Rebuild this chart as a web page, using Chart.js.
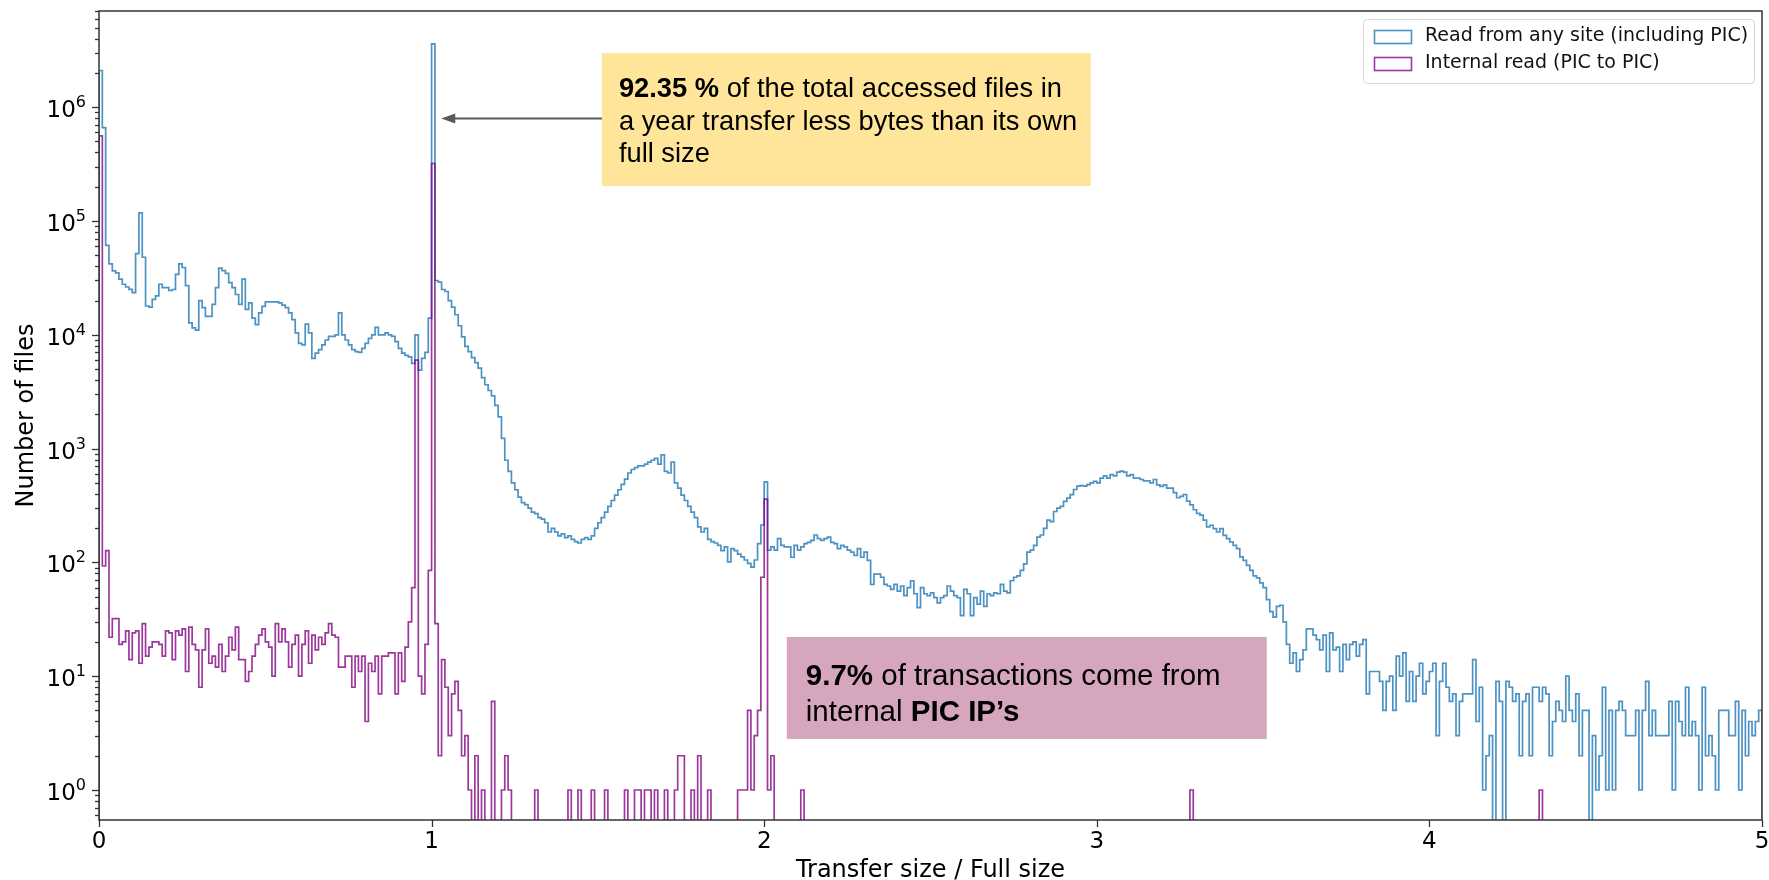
<!DOCTYPE html>
<html>
<head>
<meta charset="utf-8">
<script src="https://cdn.jsdelivr.net/npm/chart.js@4.4.1/dist/chart.umd.min.js"></script>
<style>
  html, body { margin: 0; padding: 0; background: #fff; }
</style>
</head>
<body>
<canvas id="myChart" width="1769" height="880"></canvas>
<script>
// Histogram bins: 500 bins of width 0.01 between 0 and 5 (transfer size / full size)
const BIN_WIDTH = 0.01;

// Counts per bin. "Read from any site (including PIC)"
const readAll = [
  2100000, 660000, 61000, 42000, 36500, 35000, 30800, 27800, 26300, 25100, 23500, 51600, 118000, 48000, 17900, 17500, 20500, 22000, 27800, 26000, // 0.00
  26000, 24500, 25000, 34000, 42000, 39000, 27000, 12700, 11500, 11000, 20000, 17300, 14500, 14500, 18500, 26000, 38600, 36600, 34600, 28700, // 0.20
  26000, 22600, 18500, 30800, 16700, 19100, 14000, 12300, 15600, 17800, 19500, 19500, 19500, 19500, 19100, 18200, 17300, 15600, 13600, 10400, // 0.40
  8400, 8150, 12400, 10400, 6200, 6900, 7400, 8150, 9000, 9700, 9700, 10000, 15600, 10000, 9000, 8150, 7400, 7100, 7000, 7600, // 0.60
  8400, 9300, 10000, 11600, 10000, 10000, 10400, 10000, 9700, 8700, 7600, 6900, 6600, 6400, 5600, 10000, 4900, 6200, 7000, 14000, // 0.80
  3600000, 30000, 29000, 25000, 24000, 20000, 17500, 15000, 12000, 9600, 7900, 7100, 6300, 5700, 5100, 4200, 3640, 3240, 2900, 2400, // 1.00
  1900, 1230, 790, 630, 500, 435, 375, 335, 322, 300, 277, 268, 247, 240, 223, 185, 199, 185, 171, 178, // 1.20
  165, 171, 159, 152, 148, 159, 165, 159, 171, 199, 223, 247, 277, 310, 350, 390, 435, 485, 540, 610, // 1.40
  655, 680, 705, 705, 730, 760, 790, 820, 730, 880, 630, 610, 760, 500, 450, 390, 350, 310, 277, 247, // 1.60
  205, 185, 199, 159, 152, 148, 141, 127, 137, 101, 132, 127, 118, 112, 105, 98, 91, 105, 146, 213, // 1.80
  510, 128, 137, 128, 162, 141, 137, 137, 111, 141, 128, 137, 146, 150, 156, 174, 162, 156, 162, 167, // 2.00
  150, 146, 132, 141, 137, 128, 123, 115, 132, 111, 123, 104, 64, 79, 79, 74, 64, 62, 58, 64, // 2.20
  56, 62, 51, 60, 69, 53, 40, 60, 53, 51, 54, 49, 44, 49, 51, 62, 56, 51, 49, 34, // 2.40
  58, 53, 34, 49, 43, 56, 41, 53, 51, 54, 53, 64, 56, 54, 69, 74, 76, 85, 97, 123, // 2.60
  128, 141, 167, 174, 199, 235, 228, 280, 300, 310, 343, 367, 394, 437, 468, 472, 468, 483, 500, 515, // 2.80
  500, 550, 575, 550, 590, 575, 620, 635, 620, 575, 590, 550, 550, 535, 520, 520, 500, 535, 480, 465, // 3.00
  480, 450, 450, 410, 370, 380, 395, 345, 320, 290, 270, 260, 235, 205, 212, 198, 185, 198, 173, 162, // 3.20
  151, 141, 132, 112, 104, 94, 85, 76, 73, 66, 60, 47, 37, 33, 41, 42, 30, 19, 13, 16, // 3.40
  11, 14, 17, 26, 26, 23, 21, 17, 23, 11, 24, 17, 18, 11, 19, 14, 19, 20, 15, 19, // 3.60
  21, 7, 11, 11, 11, 9, 5, 9, 10, 5, 15, 10, 16, 6, 11, 6, 10, 13, 7, 9, // 3.80
  11, 13, 3, 9, 13, 8, 6, 7, 3, 6, 7, 7, 7, 14, 4, 8, 1, 2, 3, 0, // 4.00
  9, 6, 0, 9, 8, 6, 7, 2, 6, 7, 2, 8, 8, 6, 8, 7, 2, 4, 6, 5, // 4.20
  4, 10, 5, 4, 7, 2, 5, 5, 0, 3, 1, 2, 8, 1, 5, 1, 5, 6, 5, 3, // 4.40
  3, 3, 5, 1, 5, 9, 3, 5, 3, 3, 3, 3, 6, 1, 6, 4, 3, 8, 3, 4, // 4.60
  3, 1, 8, 2, 3, 2, 1, 5, 5, 5, 3, 3, 6, 1, 5, 2, 4, 3, 4, 5  // 4.80
];

// "Internal read (PIC to PIC)"
const readInternal = [
  560000, 93, 127, 22, 32, 32, 19, 20, 25, 14, 24, 25, 13, 29, 15, 18, 20, 20, 19, 15, // 0.00
  25, 24, 14, 25, 23, 26, 11, 27, 19, 17, 8, 17, 26, 13, 15, 12, 19, 11, 15, 22, // 0.20
  17, 27, 14, 14, 9, 11, 15, 19, 23, 26, 20, 18, 10, 29, 20, 26, 20, 12, 19, 23, // 0.40
  10, 19, 25, 13, 23, 17, 22, 19, 24, 29, 23, 22, 12, 12, 15, 15, 8, 15, 11, 15, // 0.60
  4, 13, 11, 15, 7, 15, 15, 16, 16, 7, 16, 9, 18, 30, 60, 6000, 10, 7, 19, 85, // 0.80
  320000, 29, 2, 14, 8, 3, 7, 9, 5, 2, 3, 1, 0, 2, 0, 1, 0, 0, 6, 0, // 1.00
  0, 1, 2, 1, 0, 0, 0, 0, 0, 0, 0, 1, 0, 0, 0, 0, 0, 0, 0, 0, // 1.20
  0, 1, 0, 0, 1, 0, 0, 0, 1, 0, 0, 0, 1, 0, 0, 0, 0, 0, 1, 0, // 1.40
  0, 1, 1, 0, 1, 1, 0, 1, 0, 0, 1, 0, 0, 1, 2, 2, 0, 0, 1, 0, // 1.60
  2, 0, 0, 1, 0, 0, 0, 0, 0, 0, 0, 0, 1, 1, 1, 5, 1, 3, 5, 74, // 1.80
  360, 1, 2, 0, 0, 0, 0, 0, 0, 0, 0, 1, 0, 0, 0, 0, 0, 0, 0, 0, // 2.00
  0, 0, 0, 0, 0, 0, 0, 0, 0, 0, 0, 0, 0, 0, 0, 0, 0, 0, 0, 0, // 2.20
  0, 0, 0, 0, 0, 0, 0, 0, 0, 0, 0, 0, 0, 0, 0, 0, 0, 0, 0, 0, // 2.40
  0, 0, 0, 0, 0, 0, 0, 0, 0, 0, 0, 0, 0, 0, 0, 0, 0, 0, 0, 0, // 2.60
  0, 0, 0, 0, 0, 0, 0, 0, 0, 0, 0, 0, 0, 0, 0, 0, 0, 0, 0, 0, // 2.80
  0, 0, 0, 0, 0, 0, 0, 0, 0, 0, 0, 0, 0, 0, 0, 0, 0, 0, 0, 0, // 3.00
  0, 0, 0, 0, 0, 0, 0, 0, 1, 0, 0, 0, 0, 0, 0, 0, 0, 0, 0, 0, // 3.20
  0, 0, 0, 0, 0, 0, 0, 0, 0, 0, 0, 0, 0, 0, 0, 0, 0, 0, 0, 0, // 3.40
  0, 0, 0, 0, 0, 0, 0, 0, 0, 0, 0, 0, 0, 0, 0, 0, 0, 0, 0, 0, // 3.60
  0, 0, 0, 0, 0, 0, 0, 0, 0, 0, 0, 0, 0, 0, 0, 0, 0, 0, 0, 0, // 3.80
  0, 0, 0, 0, 0, 0, 0, 0, 0, 0, 0, 0, 0, 0, 0, 0, 0, 0, 0, 0, // 4.00
  0, 0, 0, 0, 0, 0, 0, 0, 0, 0, 0, 0, 0, 1, 0, 0, 0, 0, 0, 0, // 4.20
  0, 0, 0, 0, 0, 0, 0, 0, 0, 0, 0, 0, 0, 0, 0, 0, 0, 0, 0, 0, // 4.40
  0, 0, 0, 0, 0, 0, 0, 0, 0, 0, 0, 0, 0, 0, 0, 0, 0, 0, 0, 0, // 4.60
  0, 0, 0, 0, 0, 0, 0, 0, 0, 0, 0, 0, 0, 0, 0, 0, 0, 0, 0, 0  // 4.80
];

// Axis ticks
const xTickValues = [0, 1, 2, 3, 4, 5];
const yDecades = [0, 1, 2, 3, 4, 5, 6];
const Y_MIN = 0.545;
const Y_MAX = 7.0e6;

// empty bins go below the axis (log scale), like matplotlib does
const BELOW_AXIS = 0.1;

// step outline: points on the left bin edges, drawn with stepped 'before'
function stepPoints(counts) {
  const pts = [{x: 0, y: BELOW_AXIS}];
  counts.forEach((c, i) => {
    pts.push({x: Math.round(i * BIN_WIDTH * 100) / 100, y: c > 0 ? c : BELOW_AXIS});
  });
  const end = Math.round(counts.length * BIN_WIDTH * 100) / 100;
  const last = counts[counts.length - 1];
  pts.push({x: end, y: last > 0 ? last : BELOW_AXIS});
  pts.push({x: end, y: BELOW_AXIS});
  return pts;
}

// minor + major ticks of the log axis (1..9 x 10^n)
function logTicks() {
  const out = [];
  for (let e = -1; e <= 6; e++) {
    for (let m = 1; m <= 9; m++) {
      const v = m * Math.pow(10, e);
      if (v >= Y_MIN && v <= Y_MAX) out.push({value: v});
    }
  }
  return out;
}

function isDecade(v) {
  const e = Math.round(Math.log10(v));
  return Math.abs(v - Math.pow(10, e)) < 1e-9 * Math.pow(10, e);
}

// text boxes of the slide
const notes = [
  {
    x0: 1.512, x1: 2.982, yTop: 2.99e6, yBottom: 2.03e5, fill: '#ffe599', size: 27.3,
    padLeft: 17, baselines: [44, 77, 109],
    lines: [
      [{t: '92.35 %', b: true}, {t: ' of the total accessed files in'}],
      [{t: 'a year transfer less bytes than its own'}],
      [{t: 'full size'}]
    ]
  },
  {
    x0: 2.068, x1: 3.511, yTop: 22.1, yBottom: 2.81, fill: '#d5a6bd', size: 29.5,
    padLeft: 19, baselines: [48, 84],
    lines: [
      [{t: '9.7%', b: true}, {t: ' of transactions come from'}],
      [{t: 'internal '}, {t: 'PIC IP\u2019s', b: true}]
    ]
  }
];
const arrowNote = {fromX: 1.512, toX: 1.029, y: 7.97e5};

const FONT = '"DejaVu Sans", sans-serif';

const framePlugin = {
  id: 'frame',
  afterDatasetsDraw(chart) {
    const {ctx, chartArea: a, scales: {x, y}} = chart;
    ctx.save();
    ctx.strokeStyle = '#333';
    ctx.lineWidth = 1.3;
    // tick marks
    y.ticks.forEach(t => {
      const py = Math.round(y.getPixelForValue(t.value)) + 0.5;
      const len = isDecade(t.value) ? 7 : 4;
      ctx.beginPath();
      ctx.moveTo(a.left, py);
      ctx.lineTo(a.left - len, py);
      ctx.stroke();
    });
    x.ticks.forEach(t => {
      const px = Math.round(x.getPixelForValue(t.value)) + 0.5;
      ctx.beginPath();
      ctx.moveTo(px, a.bottom);
      ctx.lineTo(px, a.bottom + 7);
      ctx.stroke();
    });
    // y tick labels as 10 with a raised exponent
    ctx.fillStyle = '#000';
    ctx.textBaseline = 'alphabetic';
    ctx.textAlign = 'left';
    y.ticks.forEach(t => {
      if (!isDecade(t.value)) return;
      const e = String(Math.round(Math.log10(t.value)));
      const base = y.getPixelForValue(t.value) + 10;
      ctx.font = '23px ' + FONT;
      const w1 = ctx.measureText('10').width;
      ctx.font = '16px ' + FONT;
      const w2 = ctx.measureText(e).width;
      const right = a.left - 13;
      ctx.font = '23px ' + FONT;
      ctx.fillText('10', right - w2 - w1, base);
      ctx.font = '16px ' + FONT;
      ctx.fillText(e, right - w2, base - 10);
    });
    // spines
    ctx.lineWidth = 1.5;
    ctx.strokeRect(a.left, a.top, a.right - a.left, a.bottom - a.top);
    ctx.restore();
  },
  afterDraw(chart) {
    const {ctx, chartArea: a, scales: {x, y}} = chart;
    ctx.save();

    // annotation boxes
    notes.forEach(n => {
      const left = x.getPixelForValue(n.x0);
      const right = x.getPixelForValue(n.x1);
      const top = y.getPixelForValue(n.yTop);
      const bottom = y.getPixelForValue(n.yBottom);
      ctx.fillStyle = n.fill;
      ctx.fillRect(left, top, right - left, bottom - top);
      ctx.fillStyle = '#000';
      ctx.textBaseline = 'alphabetic';
      ctx.textAlign = 'left';
      n.lines.forEach((parts, i) => {
        let cx = left + n.padLeft;
        parts.forEach(p => {
          ctx.font = (p.b ? 'bold ' : '') + n.size + 'px "Liberation Sans", Arial, sans-serif';
          ctx.fillText(p.t, cx, top + n.baselines[i]);
          cx += ctx.measureText(p.t).width;
        });
      });
    });

    // arrow pointing at the spike at 1
    const ay = Math.round(y.getPixelForValue(arrowNote.y)) + 0.5;
    const ax0 = x.getPixelForValue(arrowNote.fromX);
    const ax1 = x.getPixelForValue(arrowNote.toX);
    ctx.strokeStyle = '#595959';
    ctx.fillStyle = '#595959';
    ctx.lineWidth = 2;
    ctx.beginPath();
    ctx.moveTo(ax0, ay);
    ctx.lineTo(ax1 + 12, ay);
    ctx.stroke();
    ctx.beginPath();
    ctx.moveTo(ax1, ay);
    ctx.lineTo(ax1 + 14, ay - 5);
    ctx.lineTo(ax1 + 14, ay + 5);
    ctx.closePath();
    ctx.fill();

    // legend, upper right inside the axes
    const bw = 391, bh = 64;
    const bx = a.right - 8 - bw, by = a.top + 8;
    ctx.fillStyle = 'rgba(255,255,255,0.85)';
    ctx.strokeStyle = '#d6d6d6';
    ctx.lineWidth = 1;
    ctx.beginPath();
    ctx.roundRect(bx + 0.5, by + 0.5, bw, bh, 4);
    ctx.fill();
    ctx.stroke();
    ctx.font = '19px ' + FONT;
    ctx.textBaseline = 'middle';
    chart.data.datasets.forEach((ds, i) => {
      const cy = by + 17 + i * 27;
      ctx.strokeStyle = ds.borderColor;
      ctx.lineWidth = 1.6;
      ctx.strokeRect(bx + 11.5, Math.round(cy - 6) + 0.5, 37, 13);
      ctx.fillStyle = '#111';
      ctx.fillText(ds.label, bx + 62, cy);
    });
    ctx.restore();
  }
};

Chart.defaults.font.family = FONT;
Chart.defaults.color = '#000';

const config = {
  type: 'line',
  data: {
    datasets: [{
      label: 'Read from any site (including PIC)',
      data: stepPoints(readAll),
      borderColor: 'rgba(31, 119, 180, 0.8)',
      borderWidth: 1.7,
      stepped: 'before',
      pointRadius: 0,
      fill: false,
      order: 2
    }, {
      label: 'Internal read (PIC to PIC)',
      data: stepPoints(readInternal),
      borderColor: 'rgba(128, 0, 128, 0.78)',
      borderWidth: 1.7,
      stepped: 'before',
      pointRadius: 0,
      fill: false,
      order: 1
    }]
  },
  options: {
    responsive: false,
    animation: false,
    events: [],
    layout: { padding: { left: 0, right: 7, top: 11, bottom: 0 } },
    plugins: {
      legend: { display: false },
      tooltip: { enabled: false }
    },
    scales: {
      x: {
        type: 'linear',
        min: 0,
        max: 5,
        afterFit(scale) {
          scale.height = 60;
          scale.paddingLeft = 0;
          scale.paddingRight = 0;
        },
        afterBuildTicks(scale) { scale.ticks = xTickValues.map(v => ({value: v})); },
        grid: { display: false, drawTicks: false },
        border: { display: false },
        ticks: { padding: 8, font: { size: 23 }, color: '#000', callback: v => String(v) },
        title: {
          display: true,
          text: 'Transfer size / Full size',
          font: { size: 24, lineHeight: 0.8 },
          color: '#000',
          padding: { top: 0, bottom: 0 }
        }
      },
      y: {
        type: 'logarithmic',
        min: Y_MIN,
        max: Y_MAX,
        afterFit(scale) {
          scale.width = 99;
          scale.paddingTop = 0;
          scale.paddingBottom = 0;
        },
        afterBuildTicks(scale) { scale.ticks = logTicks(); },
        grid: { display: false, drawTicks: false },
        border: { display: false },
        ticks: { display: false },
        title: {
          display: true,
          text: 'Number of files',
          font: { size: 24 },
          color: '#000',
          padding: { top: 12, bottom: 0 }
        }
      }
    }
  },
  plugins: [framePlugin]
};

const myChart = new Chart(document.getElementById('myChart'), config);
</script>
</body>
</html>
